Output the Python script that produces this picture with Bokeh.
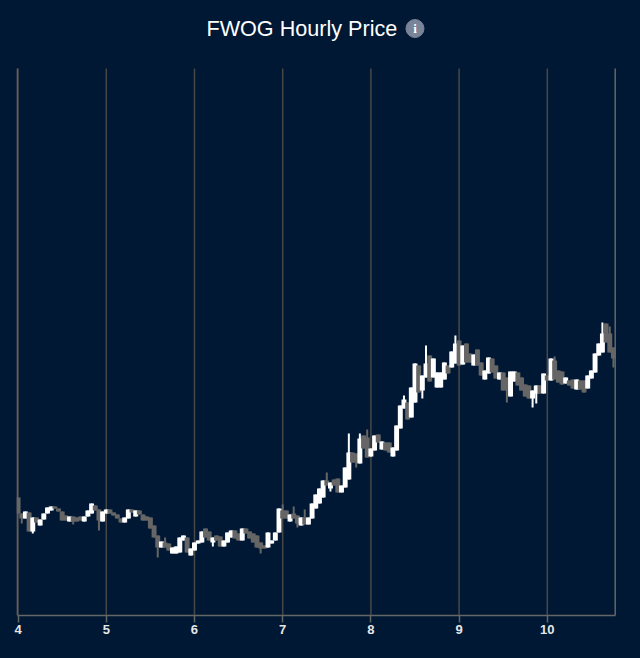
from bokeh.plotting import figure
from bokeh.embed import file_html
from bokeh.resources import INLINE
from bokeh.models import ColumnDataSource, FixedTicker, Label, Range1d

TITLE = "FWOG Hourly Price"
TICKS = [4, 5, 6, 7, 8, 9, 10]
FIRST_DAY = 4
HOURS_PER_DAY = 24

# Hourly candles, in thousandths of a dollar
open_ = [118,102,97,103,84,98,90,96,102,105,109,107,104,100,94,99,98,99,94,99,
         102,110,106,94,102,106,103,101,97,93,97,106,99,105,101,99,98,90,80,68,
         73,72,62,62,63,75,78,60,65,72,73,87,84,73,80,79,69,73,78,85,
         82,75,87,84,82,80,73,70,68,72,75,83,105,105,94,102,100,90,98,91,
         97,107,112,118,135,127,136,137,123,128,136,163,162,152,180,178,159,165,181,166,
         173,173,159,165,187,207,213,198,213,250,225,238,260,238,228,228,236,250,248,252,
         275,251,272,262,250,266,253,236,242,257,250,236,243,238,219,234,243,238,231,230,
         217,222,230,222,240,235,255,245,244,232,235,236,226,235,235,227,237,243,260,263,
         292,282,268]
close = [102,97,104,84,98,93,96,102,108,109,107,104,95,95,99,94,94,95,99,105,
         112,105,95,104,106,102,100,97,93,98,106,103,105,101,95,95,87,78,68,74,
         68,65,68,69,78,80,63,67,73,75,84,78,75,78,75,69,75,83,85,77,
         75,87,82,77,73,68,67,67,83,75,83,107,97,97,101,97,92,98,91,98,
         112,121,127,135,130,133,130,123,130,148,163,153,153,177,167,158,167,180,173,174,
         165,163,168,190,210,216,196,228,252,223,240,252,234,257,243,243,253,242,264,272,
         250,270,253,253,261,250,240,245,258,243,237,243,225,225,244,244,230,225,219,217,
         225,230,222,242,235,257,236,233,231,238,230,227,236,226,223,240,245,262,272,282,
         273,263,257]
high_wicks = {13: 100, 40: 78, 72: 111, 75: 109, 78: 106, 84: 143, 90: 182, 93: 182,
              95: 186, 105: 220, 111: 270, 119: 280, 146: 259, 159: 293, 161: 289}
low_wicks = {1: 92, 4: 82, 15: 91, 22: 85, 38: 58, 53: 69, 66: 62, 76: 88, 85: 124,
             92: 148, 110: 217, 133: 213, 140: 208, 141: 212, 162: 248}
PLOT_TOP = 547
HEADER_LEVEL = 587
ICON_DAY = 8.5
X_MIN, X_MAX = 3.989, 10.77

UP = "#ffffff"
DOWN = "#666666"
BG = "#001833"
GRID = "#484848"
AXIS = "#666666"

n = len(close)
days = [FIRST_DAY + i / HOURS_PER_DAY for i in range(n)]
high = [high_wicks.get(i, max(open_[i], close[i])) for i in range(n)]
low = [low_wicks.get(i, min(open_[i], close[i])) for i in range(n)]
colors = [UP if close[i] >= open_[i] else DOWN for i in range(n)]
top = [max(open_[i], close[i]) for i in range(n)]
bottom = [min(open_[i], close[i]) for i in range(n)]
source = ColumnDataSource(dict(day=days, high=high, low=low, top=top, bottom=bottom, color=colors))

p = figure(width=624, height=642, output_backend="svg", toolbar_location=None,
           x_range=Range1d(3.982, 10.796), y_range=Range1d(0, 615),
           min_border_left=16, min_border_right=7, min_border_top=0, min_border_bottom=27,
           background_fill_color=BG, border_fill_color=BG)
p.outline_line_color = None

# vertical gridlines and frame edges stop below the title
p.segment(TICKS, [0] * len(TICKS), TICKS, [PLOT_TOP] * len(TICKS), color=GRID, line_width=1.5)
p.segment([X_MIN, X_MAX], [0, 0], [X_MIN, X_MAX], [PLOT_TOP, PLOT_TOP], color=AXIS, line_width=1.5)

p.segment("day", "high", "day", "low", source=source, color="color", line_width=2)
p.vbar(x="day", width=0.056, top="top", bottom="bottom", source=source,
       fill_color="color", line_color=None)

p.xgrid.visible = False
p.ygrid.visible = False
p.yaxis.visible = False

ax = p.xaxis[0]
ax.ticker = FixedTicker(ticks=TICKS)
ax.bounds = (X_MIN, X_MAX)
ax.axis_line_color = AXIS
ax.axis_line_width = 1.5
ax.major_tick_line_color = AXIS
ax.major_tick_line_width = 1.5
ax.major_tick_in = 0
ax.major_tick_out = 7
ax.minor_tick_line_color = None
ax.major_label_standoff = 2
ax.major_label_text_color = "#e6e6e6"
ax.major_label_text_font = "Liberation Sans"
ax.major_label_text_font_style = "bold"
ax.major_label_text_font_size = "13px"

p.add_layout(Label(x=190, y=HEADER_LEVEL, x_units="screen", y_units="screen", text=TITLE,
                   text_color="#ffffff", text_font="Liberation Sans", text_font_size="21.6px",
                   text_baseline="middle", text_align="left"))
p.scatter([ICON_DAY], [HEADER_LEVEL], size=18, color="#7a8499")
p.text([ICON_DAY], [HEADER_LEVEL], text=["i"], text_color="#ffffff", text_font="Liberation Sans",
       text_font_style="bold", text_font_size="13px", text_baseline="middle", text_align="center")

html = file_html(p, INLINE)
html = html.replace("<head>", "<head><style>html,body{background:%s}</style>" % BG, 1)
open("out.html", "w").write(html)
